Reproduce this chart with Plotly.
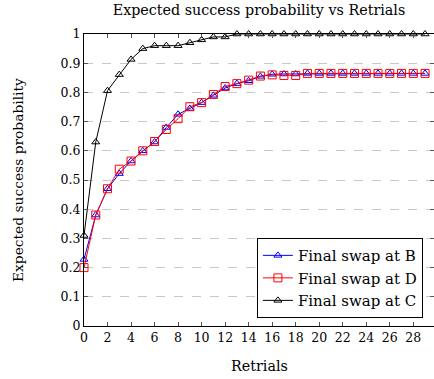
import plotly.graph_objects as go

retrials = list(range(30))
final_b = [0.228, 0.38, 0.47, 0.522, 0.565, 0.60, 0.63, 0.68, 0.725, 0.745,
           0.765, 0.79, 0.815, 0.83, 0.84, 0.855, 0.862, 0.863, 0.863, 0.865,
           0.865, 0.865, 0.865, 0.865, 0.865, 0.865, 0.865, 0.865, 0.865, 0.865]
final_d = [0.20, 0.38, 0.47, 0.537, 0.565, 0.60, 0.632, 0.673, 0.71, 0.751,
           0.765, 0.793, 0.82, 0.83, 0.842, 0.856, 0.86, 0.858, 0.858, 0.865,
           0.865, 0.865, 0.865, 0.865, 0.865, 0.865, 0.865, 0.865, 0.865, 0.865]
final_c = [0.31, 0.63, 0.806, 0.861, 0.913, 0.95, 0.96, 0.96, 0.96, 0.97,
           0.98, 0.99, 0.99, 1.0, 1.0, 1.0, 1.0, 1.0, 1.0, 1.0,
           1.0, 1.0, 1.0, 1.0, 1.0, 1.0, 1.0, 1.0, 1.0, 1.0]
x_ticks = list(range(0, 29, 2))
y_ticks = [round(0.1 * i, 1) for i in range(11)]
y_labels = ["0", "0.1", "0.2", "0.3", "0.4", "0.5", "0.6", "0.7", "0.8", "0.9", "1"]

FONT = "DejaVu Serif"

fig = go.Figure()
fig.add_trace(go.Scatter(x=retrials, y=final_b, name="Final swap at B", mode="lines+markers",
                         line=dict(color="blue", width=1),
                         marker=dict(symbol="triangle-up-open", size=7, color="blue", line=dict(width=1)),
                         cliponaxis=False))
fig.add_trace(go.Scatter(x=retrials, y=final_d, name="Final swap at D", mode="lines+markers",
                         line=dict(color="red", width=1),
                         marker=dict(symbol="square-open", size=8, color="red", line=dict(width=1)),
                         cliponaxis=False))
fig.add_trace(go.Scatter(x=retrials, y=final_c, name="Final swap at C", mode="lines+markers",
                         line=dict(color="black", width=1),
                         marker=dict(symbol="triangle-up-open", size=7, color="black", line=dict(width=1)),
                         cliponaxis=False))

fig.update_layout(
    width=434, height=379,
    margin=dict(l=84, r=0, t=34, b=53),
    paper_bgcolor="white", plot_bgcolor="white",
    font=dict(family=FONT, size=13, color="black"),
    showlegend=True,
    legend=dict(x=0.494, y=0.027, xanchor="left", yanchor="bottom",
                bgcolor="white", bordercolor="black", borderwidth=1,
                font=dict(family=FONT, size=15), tracegroupgap=0,
                itemwidth=30),
    title=dict(text="Expected success probability vs Retrials", x=259 / 434, xanchor="center",
               xref="container", yref="container", y=1 - 10 / 379, yanchor="middle",
               font=dict(family=FONT, size=14.3)),
    annotations=[
        dict(text="Expected success probability", xref="paper", yref="paper",
             x=-(84 - 18) / 350, y=0.5, textangle=-90, showarrow=False,
             xanchor="center", yanchor="middle", font=dict(family=FONT, size=13.8)),
        dict(text="Retrials", xref="paper", yref="paper",
             x=0.5, y=-(366 - 326) / 292, showarrow=False,
             xanchor="center", yanchor="middle", font=dict(family=FONT, size=14.3)),
    ],
)
fig.update_xaxes(range=[0, 29.76], tickvals=x_ticks, ticktext=[str(v) for v in x_ticks],
                 showgrid=False, zeroline=False, showline=True, linecolor="black", linewidth=1,
                 mirror="ticks", ticks="inside", ticklen=4, tickcolor="#555", tickwidth=1,
                 tickfont=dict(family=FONT, size=12.5))
fig.update_yaxes(range=[0, 1], tickvals=y_ticks, ticktext=y_labels,
                 showgrid=True, gridcolor="#c8c8c8", griddash="dash", gridwidth=1,
                 zeroline=False, showline=True, linecolor="black", linewidth=1,
                 mirror="ticks", ticks="inside", ticklen=4, tickcolor="#555", tickwidth=1,
                 tickfont=dict(family=FONT, size=12.5))

fig.write_html("out.html")
